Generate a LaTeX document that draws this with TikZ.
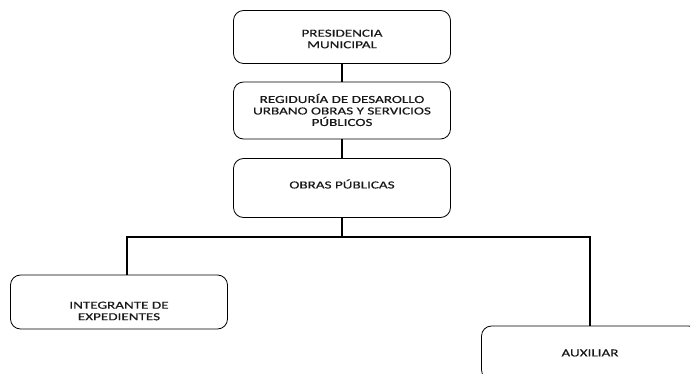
\documentclass[tikz,border=0pt]{standalone}
\usepackage{fontspec}
\setmainfont{Carlito}[FakeStretch=1.4,FakeBold=0.4]
\begin{document}
\begin{tikzpicture}[x=1pt,y=-1pt,
  orgbox/.style={draw=black,line width=0.8pt,rounded corners=10pt,minimum width=217pt,inner sep=0pt},
  orgtext/.style={align=center,font=\fontsize{10.8}{11.5}\selectfont,text=black!90,inner sep=0pt},
  conn/.style={line width=1.6pt}]
\useasboundingbox (0,0) rectangle (690,374);
\node[orgbox,minimum height=53pt] (b1) at (342,37) {};
\node[orgtext] (t1) at (342,39) {PRESIDENCIA\\MUNICIPAL};
\node[orgbox,minimum height=57pt] (b2) at (342,110.5) {};
\node[orgtext] (t2) at (342,110) {REGIDURÍA DE DESAROLLO\\URBANO OBRAS Y SERVICIOS\\PÚBLICOS};
\node[orgbox,minimum height=59pt] (b3) at (342,188) {};
\node[orgtext] (t3) at (342,184) {OBRAS PÚBLICAS};
\node[orgbox,minimum height=54pt] (b4) at (119,302) {};
\node[orgtext] (t4) at (119,311) {INTEGRANTE DE\\EXPEDIENTES};
\node[orgbox,minimum height=54pt] (b5) at (590,353) {};
\node[orgtext] (t5) at (590,353) {AUXILIAR};
\coordinate (j) at (342,237);
\draw[conn] (b1.south) -- (b2.north);
\draw[conn] (b2.south) -- (b3.north);
\draw[conn] (b3.south) -- (j);
\draw[conn] (b4.north -| 127,0) |- (j) -| (b5.north);
\end{tikzpicture}
\end{document}
